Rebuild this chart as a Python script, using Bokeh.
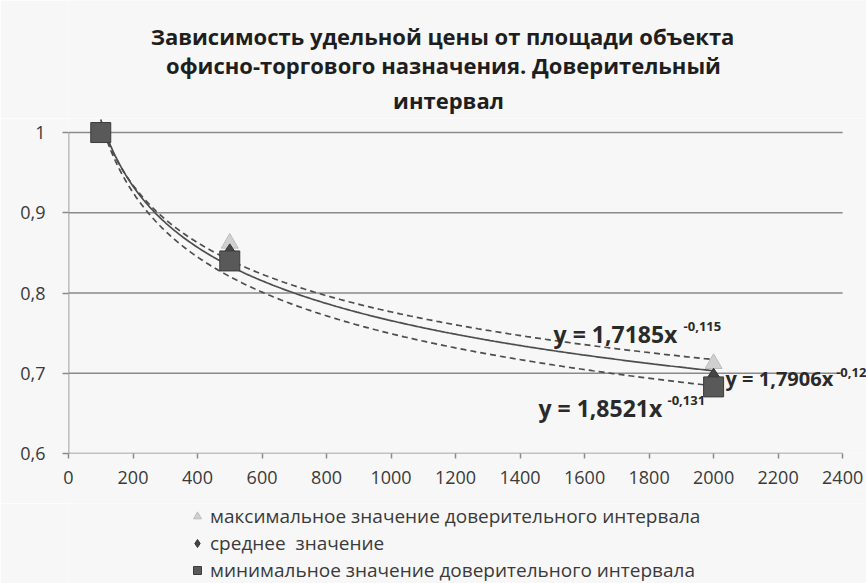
from bokeh.plotting import figure
from bokeh.layouts import column
from bokeh.models import (Range1d, FixedTicker, CustomJSTickFormatter, Label,
                          Legend, LegendItem)
from bokeh.embed import file_html
from bokeh.resources import INLINE
import numpy as np

# ---- data ----
area = [100, 500, 2000]
max_vals = [1.0, 0.862, 0.712]
mean_vals = [1.0, 0.850, 0.695]
min_vals = [1.0, 0.840, 0.683]

# trendline coefficients shown on the chart: y = a * x^(-b)
trend_max = (1.7185, 0.115)
trend_mean = (1.7906, 0.123)
trend_min = (1.8521, 0.131)

x_ticks = [0, 200, 400, 600, 800, 1000, 1200, 1400, 1600, 1800, 2000, 2200, 2400]
y_ticks = [0.6, 0.7, 0.8, 0.9, 1.0]

title_lines = ["Зависимость удельной цены от площади объекта",
               "офисно-торгового назначения. Доверительный",
               "интервал"]
legend_labels = ["максимальное значение доверительного интервала",
                 "среднее  значение",
                 "минимальное значение доверительного интервала"]
eq_main = ["y = 1,7185x", "y = 1,7906x", "y = 1,8521x"]
eq_exp = ["-0,115", "-0,12", "-0,131"]

FONT = "Open Sans"
GRID = "#8a8a8a"
BG = "#f7f7f7"
W = 866
FRAME_LEFT = 68   # frames of the stacked figures are aligned at this x

MAX_STYLE = dict(marker="triangle", fill_color="#d0d0d0", line_color="#bcbcbc")
MEAN_STYLE = dict(marker="diamond", fill_color="#454545", line_color="#333333")
MIN_STYLE = dict(marker="square", fill_color="#595959", line_color="#3c3c3c")


def bare(height):
    f = figure(width=W, height=height, output_backend="svg", toolbar_location=None,
               x_range=Range1d(FRAME_LEFT, W), y_range=Range1d(0, height),
               x_axis_location=None, y_axis_location=None,
               min_border=0, min_border_left=0, min_border_right=0,
               min_border_top=0, min_border_bottom=0)
    f.background_fill_color = BG
    f.border_fill_color = BG
    f.outline_line_color = None
    f.grid.visible = False
    return f


# ---------------- title block ----------------
TH = 118
pt = bare(TH)
for txt, cx, cy in zip(title_lines, [442, 443, 448], [35, 64, 99]):
    pt.add_layout(Label(x=cx, y=TH - cy, text=txt, text_align="center",
                        text_baseline="middle", text_font=FONT,
                        text_font_style="bold", text_font_size="22px",
                        text_color="#1e1e1e"))

# ---------------- main plot ----------------
MH = 385
p = figure(width=W, height=MH, output_backend="svg", toolbar_location=None,
           x_range=Range1d(0, 2474), y_range=Range1d(0.6, 1.0175),
           min_border_left=FRAME_LEFT, min_border_right=0, min_border_top=0,
           min_border_bottom=50)
p.background_fill_color = BG
p.border_fill_color = BG
p.outline_line_color = None

p.xaxis.ticker = FixedTicker(ticks=x_ticks)
p.yaxis.ticker = FixedTicker(ticks=y_ticks)
p.yaxis.formatter = CustomJSTickFormatter(
    code="return tick > 0.999 ? '1' : tick.toFixed(1).replace('.', ',');")
for ax in (p.xaxis, p.yaxis):
    ax.major_label_text_font = FONT
    ax.major_label_text_font_size = "18px"
    ax.major_label_text_color = "#3a3a3a"
    ax.minor_tick_line_color = None
    ax.major_tick_in = 0
    ax.major_tick_line_color = GRID
    ax.major_tick_line_width = 1.5
    ax.axis_line_color = None
p.yaxis.major_tick_out = 6
p.yaxis.major_label_standoff = 17
p.xaxis.major_tick_out = 5
p.xaxis.major_label_standoff = 12
p.xgrid.grid_line_color = None
p.ygrid.grid_line_color = None

# gridlines and the vertical axis line over the plotting area only
p.segment(x0=[x_ticks[0]] * len(y_ticks), y0=y_ticks,
          x1=[x_ticks[-1]] * len(y_ticks), y1=y_ticks,
          line_color=GRID, line_width=1.6)
p.segment(x0=[0], y0=[y_ticks[0]], x1=[0], y1=[y_ticks[-1]],
          line_color=GRID, line_width=1.6)

# trendlines
xs = np.linspace(area[0], area[-1], 300)
for (a, b), dash in ((trend_max, "6 4"), (trend_min, "6 4"), (trend_mean, "solid")):
    p.line(xs, a * xs ** (-b), line_color="#4d4d4d", line_width=1.7, line_dash=dash)

# markers (series order: max, mean, min on top)
p.scatter(area, max_vals, size=17, **MAX_STYLE)
p.scatter(area, mean_vals, size=18, **MEAN_STYLE)
p.scatter(area, min_vals, size=20, **MIN_STYLE)

# trendline equations
eq_pos = [(1504, 0.7495), (2037, 0.6935), (1457, 0.657)]
eq_size = ["23px", "20px", "23px"]
exp_pos = [(1907, 0.7585), (2380, 0.7015), (1857, 0.666)]
for txt, (xx, yy), fs in zip(eq_main, eq_pos, eq_size):
    p.add_layout(Label(x=xx, y=yy, text=txt, text_align="left",
                       text_baseline="middle", text_font=FONT,
                       text_font_style="bold", text_font_size=fs,
                       text_color="#2a2a2a"))
for txt, (xx, yy) in zip(eq_exp, exp_pos):
    p.add_layout(Label(x=xx, y=yy, text=txt, text_align="left",
                       text_baseline="middle", text_font=FONT,
                       text_font_style="bold", text_font_size="13px",
                       text_color="#2a2a2a"))

# ---------------- legend block ----------------
LH = 583 - TH - MH
pl = bare(LH)
off = [-100]  # keeps the sample glyphs outside the visible area
l_max = pl.scatter(off, off, size=10, **MAX_STYLE)
l_mean = pl.scatter(off, off, size=10, **MEAN_STYLE)
l_min = pl.scatter(off, off, size=10, **MIN_STYLE)
legend = Legend(items=[LegendItem(label=legend_labels[0], renderers=[l_max]),
                       LegendItem(label=legend_labels[1], renderers=[l_mean]),
                       LegendItem(label=legend_labels[2], renderers=[l_min])],
                location=(119, 0), orientation="vertical")
legend.label_text_font = FONT
legend.label_text_font_size = "19px"
legend.label_text_color = "#3a3a3a"
legend.background_fill_alpha = 0
legend.border_line_color = None
legend.padding = 0
legend.margin = 0
legend.spacing = 1
legend.label_height = 20
legend.glyph_height = 20
legend.glyph_width = 20
legend.label_standoff = 3
pl.add_layout(legend)

layout = column(pt, p, pl, spacing=0)
open("out.html", "w").write(file_html(layout, INLINE))
